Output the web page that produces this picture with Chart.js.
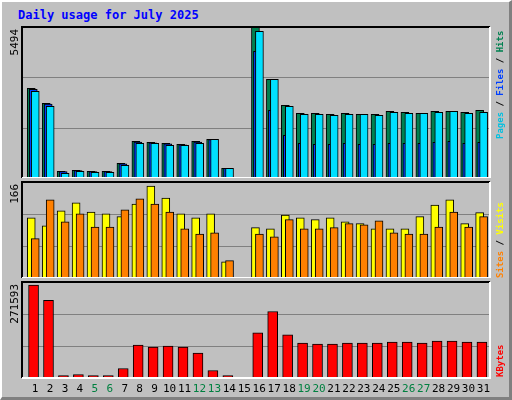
<!DOCTYPE html>
<html><head><meta charset="utf-8">
<script src="https://cdn.jsdelivr.net/npm/chart.js@4/dist/chart.umd.min.js"></script>
<style>
html,body{margin:0;padding:0;background:#fff}
#wrap{position:relative;width:512px;height:400px;background:#C0C0C0;box-sizing:border-box;border-top:2px solid #fff;border-left:2px solid #fff;border-right:3px solid #808080;border-bottom:3px solid #808080;overflow:hidden}
#title{position:absolute;left:16px;top:6px;font:bold 12px "DejaVu Sans Mono",monospace;color:#0000FF}
canvas{position:absolute;left:-2px}
</style></head><body>
<div id="wrap">
<div id="title">Daily usage for July 2025</div>
<canvas id="c1" width="512" height="153" style="top:23px"></canvas>
<canvas id="c2" width="512" height="98" style="top:178px"></canvas>
<canvas id="c3" width="512" height="120" style="top:278px"></canvas>
</div>
<script>
const days = Array.from({length:31},(_,i)=>i+1);
const weekendDays = [5,6,12,13,19,20,26,27];
const hits  = [3264,2718,244,280,244,244,535,1335,1299,1263,1226,1335,1408,353,0,5494,3591,2645,2354,2354,2318,2354,2318,2318,2427,2390,2354,2427,2427,2390,2463];
const files = [3230,2690,230,270,230,230,520,1310,1280,1240,1210,1310,1400,350,0,4610,2463,1553,1263,1226,1226,1263,1226,1226,1263,1263,1263,1299,1335,1263,1299];
const pages = [3155,2609,171,244,207,207,462,1263,1263,1190,1190,1263,1408,353,0,5338,3591,2609,2318,2318,2281,2318,2318,2281,2390,2354,2354,2390,2427,2354,2390];
const visits = [104,90,116,130,114,111,106,128,159,138,111,104,111,28,0,87,85,109,104,101,104,97,94,85,85,85,106,126,135,94,113];
const sites  = [68,135,97,111,88,88,118,137,128,114,85,76,78,30,0,76,71,101,85,85,87,94,92,99,78,76,76,88,114,88,106];
const kbytes = [263000,219800,6900,9800,6900,6900,27000,93200,87500,90300,87500,70200,21300,6900,0,127700,188200,122000,99000,96100,96100,99000,99000,99000,101800,101800,99000,104700,104700,101800,101800];
const maxTop=5494, maxMid=166, maxBot=271593;

const FONT='"DejaVu Sans Mono",monospace';
function pts(vals,off){return vals.map((v,i)=>({x:days[i]+off,y:v}));}
function ds(vals,off,color,w,order){return {data:pts(vals,off),backgroundColor:color,borderColor:'#000',borderWidth:1,borderSkipped:false,barThickness:w,grouped:false,order:order};}

function panelPlugin(maxVal,legend,legendBottom,showDays){
 return {id:'p',
 beforeDatasetsDraw(ch){
  const c=ch.ctx,a=ch.chartArea,y=ch.scales.y;
  c.save();c.strokeStyle='#808080';c.lineWidth=1;
  [maxVal/3,2*maxVal/3].forEach(v=>{const py=Math.round(y.getPixelForValue(v))+0.5;c.beginPath();c.moveTo(a.left,py);c.lineTo(a.right,py);c.stroke();});
  c.restore();
 },
 afterDraw(ch){
  const c=ch.ctx,a=ch.chartArea,x=ch.scales.x;
  c.save();
  c.lineWidth=2;c.strokeStyle='#000';
  c.beginPath();c.moveTo(a.left,a.bottom);c.lineTo(a.left,a.top);c.lineTo(a.right,a.top);c.stroke();
  c.strokeStyle='#fff';c.beginPath();c.moveTo(a.right,a.top);c.lineTo(a.right,a.bottom);c.lineTo(a.left,a.bottom);c.stroke();
  c.translate(a.left-7,a.top+2);c.rotate(-Math.PI/2);
  c.font='11px '+FONT;c.fillStyle='#000';c.textAlign='right';c.textBaseline='middle';
  c.fillText(String(maxVal),0,0);
  c.restore();
  c.save();c.translate(a.right+11,legendBottom);c.rotate(-Math.PI/2);
  c.font='bold 9px '+FONT;c.textBaseline='middle';c.textAlign='left';
  let px=0;legend.forEach(([t,col])=>{c.fillStyle=col;c.fillText(t,px,0);px+=c.measureText(t).width;});
  c.restore();
  if(showDays){
   c.save();c.font='11px '+FONT;c.textAlign='center';c.textBaseline='middle';
   days.forEach(d=>{c.fillStyle=weekendDays.includes(d)?'#008040':'#000';c.fillText(String(d),x.getPixelForValue(d+0.12),a.bottom+11);});
   c.restore();
  }
 }};
}
function opts(maxVal,bottomPad){
 return {responsive:false,animation:false,devicePixelRatio:1,
  layout:{padding:{left:22,right:22,top:2,bottom:bottomPad}},
  plugins:{legend:{display:false},tooltip:{enabled:false}},
  scales:{x:{type:'linear',min:0.247,max:31.56,offset:false,display:false,bounds:'ticks'},
          y:{min:0,max:maxVal,display:false}}};
}
new Chart(document.getElementById('c1'),{type:'bar',
 data:{datasets:[ds(hits,-0.133,'#008050',8,2),ds(files,0,'#0040FF',8,1),ds(pages,0.133,'#00E0FF',8,0)]},
 options:opts(maxTop,0),
 plugins:[panelPlugin(maxTop,[['Pages','#00C0E0'],[' / ','#000'],['Files','#0040FF'],[' / ','#000'],['Hits','#008050']],114,false)]});
new Chart(document.getElementById('c2'),{type:'bar',
 data:{datasets:[ds(visits,-0.133,'#FFFF00',8,1),ds(sites,0.133,'#FF8000',8,0)]},
 options:opts(maxMid,0),
 plugins:[panelPlugin(maxMid,[['Sites','#FF8000'],[' / ','#000'],['Visits','#FFFF00']],98,false)]});
new Chart(document.getElementById('c3'),{type:'bar',
 data:{datasets:[ds(kbytes,0.02,'#FF0000',10,0)]},
 options:opts(maxBot,22),
 plugins:[panelPlugin(maxBot,[['KBytes','#FF0000']],97,true)]});
</script>
</body></html>
